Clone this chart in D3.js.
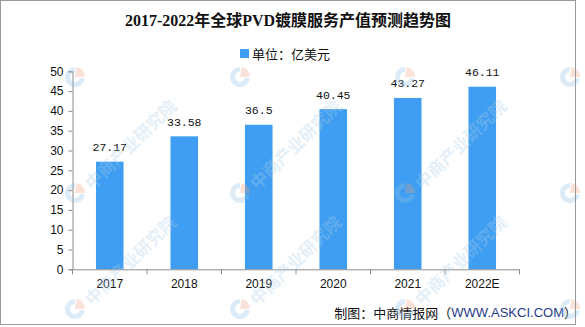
<!DOCTYPE html>
<html>
<head>
<meta charset="utf-8">
<script src="https://cdn.jsdelivr.net/npm/d3@7"></script>
<style>
  html, body { margin: 0; padding: 0; background: #fff; }
  svg { display: block; }
</style>
</head>
<body>
<svg id="chart" width="585" height="327"></svg>
<script>
// Global PVD coating service output value, 2017-2022 (unit: 100 million USD)
const years = ["2017", "2018", "2019", "2020", "2021", "2022E"];
const values = [27.17, 33.58, 36.5, 40.45, 43.27, 46.11];
const valueLabels = ["27.17", "33.58", "36.5", "40.45", "43.27", "46.11"];
const yTicks = [0, 5, 10, 15, 20, 25, 30, 35, 40, 45, 50];

const titleText = "2017-2022年全球PVD镀膜服务产值预测趋势图";
const legendText = "单位：亿美元";
const watermarkText = "中商产业研究院";

const barColor = "#3f9ef1";
const axisColor = "#8c8c8c";
const sans = "'Liberation Sans', Arial, 'Noto Sans CJK SC', sans-serif";
const cjk = "'Noto Sans CJK SC', 'Liberation Sans', sans-serif";

const svg = d3.select("#chart");

svg.append("rect").attr("width", 585).attr("height", 327).attr("fill", "#fff");

// scales
const x = d3.scaleBand().domain(years).range([72.5, 519.5])
  .paddingInner(0.63).paddingOuter(0.315);
const y = d3.scaleLinear().domain([0, 50]).range([269.3, 71.3]);

// bars
svg.append("g").selectAll("rect").data(values).join("rect")
  .attr("x", (d, i) => x(years[i]))
  .attr("width", x.bandwidth())
  .attr("y", d => y(d))
  .attr("height", d => y(0) - y(d))
  .attr("fill", barColor);

// y axis
const yAxis = svg.append("g").attr("transform", "translate(72.5,0)")
  .call(d3.axisLeft(y).tickValues(yTicks).tickSize(4).tickSizeOuter(4).tickPadding(5));
yAxis.select(".domain").attr("stroke", axisColor);
yAxis.selectAll(".tick line").attr("stroke", axisColor);
yAxis.selectAll(".tick text")
  .attr("font-family", sans).attr("font-size", 12).attr("fill", "#111");

// x axis: labels under each band, tick marks at band boundaries
const xAxis = svg.append("g").attr("transform", `translate(0,${y(0)})`)
  .call(d3.axisBottom(x).tickSize(0).tickPadding(10).tickSizeOuter(0));
xAxis.select(".domain").attr("stroke", axisColor);
xAxis.selectAll(".tick text")
  .attr("font-family", sans).attr("font-size", 12).attr("fill", "#111");
const bounds = d3.range(years.length + 1).map(i => x.range()[0] + i * x.step());
xAxis.selectAll("line.bound").data(bounds).join("line")
  .attr("class", "bound")
  .attr("x1", d => d).attr("x2", d => d)
  .attr("y1", 0).attr("y2", 5)
  .attr("stroke", axisColor);

// value labels above bars
svg.append("g").selectAll("text").data(values).join("text")
  .attr("x", (d, i) => x(years[i]) + x.bandwidth() / 2)
  .attr("y", d => y(d) - 14)
  .attr("text-anchor", "middle")
  .attr("dominant-baseline", "central")
  .attr("font-family", "'Liberation Mono', monospace")
  .attr("font-size", 11.5)
  .attr("fill", "#111")
  .text((d, i) => valueLabels[i]);

// title
svg.append("text")
  .attr("x", 288).attr("y", 20)
  .attr("text-anchor", "middle").attr("dominant-baseline", "central")
  .attr("font-family", "'Liberation Serif', 'Noto Sans CJK SC', serif")
  .attr("font-weight", "bold").attr("font-size", 16).attr("fill", "#111")
  .text(titleText);

// legend
svg.append("rect").attr("x", 240).attr("y", 49).attr("width", 9).attr("height", 9)
  .attr("fill", barColor);
svg.append("text")
  .attr("x", 252).attr("y", 53.5)
  .attr("dominant-baseline", "central")
  .attr("font-family", cjk).attr("font-size", 13).attr("fill", "#111")
  .text(legendText);

// source note
const note = svg.append("text")
  .attr("x", 577).attr("y", 312)
  .attr("text-anchor", "end").attr("dominant-baseline", "central")
  .attr("font-family", cjk).attr("font-size", 13).attr("fill", "#111");
note.append("tspan").text("制图：中商情报网（");
note.append("tspan").attr("fill", "#1f3a8a").attr("font-family", sans).text("WWW.ASKCI.COM");
note.append("tspan").text("）");

// watermark layer: logo grid, with the institute name beside logos whose text fits on the canvas
const wm = svg.append("g").attr("pointer-events", "none");
const wmCols = d3.range(75, 600, 165);
const wmRows = d3.range(77, 340, 116);
const logoArcBlue = d3.arc().innerRadius(5).outerRadius(10).startAngle(Math.PI * 0.55).endAngle(Math.PI * 2);
const logoArcOrange = d3.arc().innerRadius(0).outerRadius(10).startAngle(Math.PI * 0.05).endAngle(Math.PI * 0.5);
wmRows.forEach(ry => {
  wmCols.forEach(cx => {
    const g = wm.append("g").attr("transform", `translate(${cx},${ry})`).attr("opacity", 0.3);
    g.append("path").attr("d", logoArcBlue()).attr("fill", "#8fbfe3");
    g.append("path").attr("d", logoArcOrange()).attr("fill", "#f0a080");
    if (ry > 100 && cx < 500) {
      g.append("text")
        .attr("transform", "translate(12,-8) rotate(-44)")
        .attr("dominant-baseline", "central")
        .attr("font-family", cjk).attr("font-weight", "bold").attr("font-size", 17)
        .attr("fill", "#a9cdea")
        .text(watermarkText);
    }
  });
});

// frame
svg.append("rect").attr("x", 0.5).attr("y", 0.5).attr("width", 575).attr("height", 324)
  .attr("fill", "none").attr("stroke", "#9a9a9a");
</script>
</body>
</html>
